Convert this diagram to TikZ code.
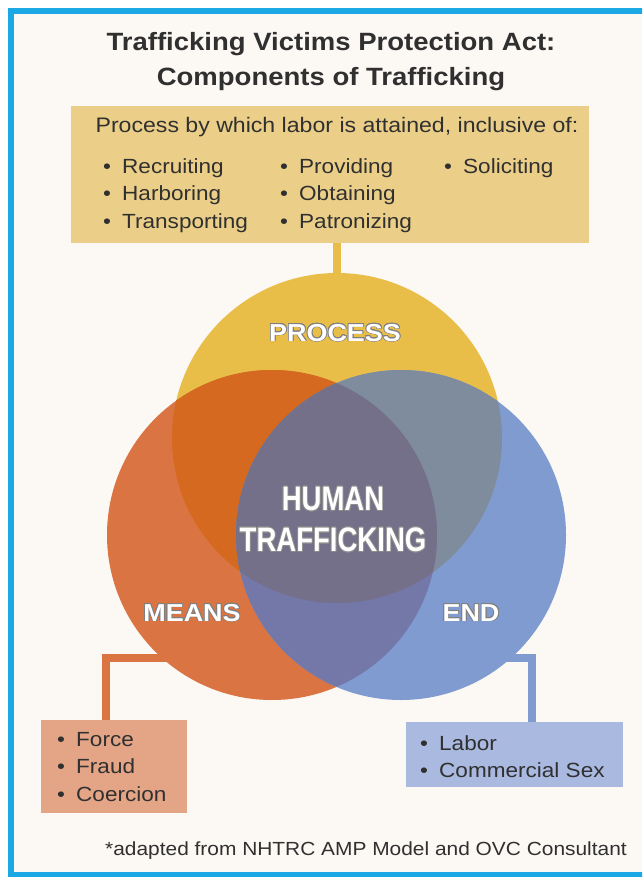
\documentclass[tikz,border=0pt]{standalone}
\usepackage{fontspec}
\setmainfont[FakeStretch=1.1]{Liberation Sans}
\newfontfamily\narrowfont[FakeStretch=0.81]{Liberation Sans}
\usepackage{contour}
\contourlength{0.8pt}
\definecolor{paper}{HTML}{FCF8F4}
\definecolor{framecol}{HTML}{1BA8E5}
\definecolor{proccol}{HTML}{E9BE48}
\definecolor{meanscol}{HTML}{DA7442}
\definecolor{endcol}{HTML}{7F9BCF}
\definecolor{procmeans}{HTML}{D4691F}
\definecolor{procend}{HTML}{7F8C9D}
\definecolor{meansend}{HTML}{7378A9}
\definecolor{corecol}{HTML}{757089}
\definecolor{procboxcol}{HTML}{EBCF88}
\definecolor{meansboxcol}{HTML}{E4A587}
\definecolor{endboxcol}{HTML}{A9B9DF}
\definecolor{ink}{HTML}{303030}
\newcommand\bul{\makebox[19pt][l]{•}}
\tikzset{
  vennc/.style={circle, minimum size=330pt, inner sep=0pt},
  vlabel/.style={text=white, font=\bfseries\fontsize{24.5}{28}\selectfont},
  listbox/.style={inner sep=0pt, outer sep=0pt},
  items/.style={inner sep=0pt, anchor=north west, align=left, text=ink,
    font=\fontsize{20.5}{27.5}\selectfont},
  link/.style={line width=8pt},
}
\begin{document}
\begin{tikzpicture}[x=1pt,y=-1pt]
  \useasboundingbox (0,0) rectangle (642,877);
  \clip (0,0) rectangle (642,877);
  \fill[white] (0,0) rectangle (642,877);
  \fill[paper] (11,11) rectangle (650,875);
  \draw[framecol, line width=6pt] (11,11) rectangle (650,875);

  % title
  \node[anchor=north, align=center, text=ink, inner sep=0pt,
    font=\bfseries\fontsize{25}{35}\selectfont] (title) at (331,32)
    {Trafficking Victims Protection Act:\\Components of Trafficking};

  % the three circles (only named here, filled below)
  \node[vennc] (proc) at (337,438) {};
  \node[vennc] (means) at (272,535) {};
  \node[vennc] (endc) at (401,535) {};

  % boxes
  \node[listbox, fill=procboxcol, minimum width=518pt, minimum height=137pt] (procbox) at (330,174.5) {};
  \node[listbox, fill=meansboxcol, minimum width=146pt, minimum height=93pt] (meansbox) at (114,766.5) {};
  \node[listbox, fill=endboxcol, minimum width=217pt, minimum height=65pt] (endbox) at (514.5,754.5) {};

  % connectors
  \draw[link, proccol] (procbox.south -| proc.north) -- (proc.north);
  \draw[link, meanscol] ([xshift=-8pt]meansbox.north) |- ([xshift=15pt]means.228);
  \draw[link, endcol] ([xshift=17.5pt]endbox.north) |- ([xshift=-15pt]endc.312);
  \fill[meansboxcol] (meansbox.south west) rectangle (meansbox.north east);
  \fill[endboxcol] (endbox.south west) rectangle (endbox.north east);

  % venn regions
  \fill[proccol] (proc.center) circle (165pt);
  \fill[meanscol] (means.center) circle (165pt);
  \fill[endcol] (endc.center) circle (165pt);
  \begin{scope}
    \clip (proc.center) circle (165pt);
    \fill[procmeans] (means.center) circle (165pt);
    \fill[procend] (endc.center) circle (165pt);
  \end{scope}
  \begin{scope}
    \clip (means.center) circle (165pt);
    \fill[meansend] (endc.center) circle (165pt);
    \clip (proc.center) circle (165pt);
    \fill[corecol] (endc.center) circle (165pt);
  \end{scope}

  % labels
  \node[vlabel] (proclabel) at (335,333) {\contour{black!50}{PROCESS}};
  \node[vlabel] (meanslabel) at (192,613) {\contour{black!50}{MEANS}};
  \node[vlabel] (endlabel) at (471,613) {\contour{black!50}{END}};
  \node[align=center, text=white, font=\narrowfont\bfseries\fontsize{34}{41}\selectfont] (ht) at (333,520)
    {\contour{black!45}{HUMAN}\\\contour{black!45}{TRAFFICKING}};

  % list texts
  \node[anchor=base, text=ink, font=\fontsize{21}{24}\selectfont] (procintro) at (337,133)
    {Process by which labor is attained, inclusive of:};
  \node[items] (col1) at (103,158) {\bul Recruiting\\\bul Harboring\\\bul Transporting};
  \node[items] (col2) at (280,158) {\bul Providing\\\bul Obtaining\\\bul Patronizing};
  \node[items] (col3) at (444,158) {\bul Soliciting};
  \node[items] (meansitems) at (57,732) {\bul Force\\\bul Fraud\\\bul Coercion};
  \node[items] (enditems) at (420,735) {\bul Labor\\\bul Commercial Sex};

  \node[anchor=base, text=ink, font=\fontsize{19}{22}\selectfont] (note) at (366,855)
    {*adapted from NHTRC AMP Model and OVC Consultant};
\end{tikzpicture}
\end{document}
